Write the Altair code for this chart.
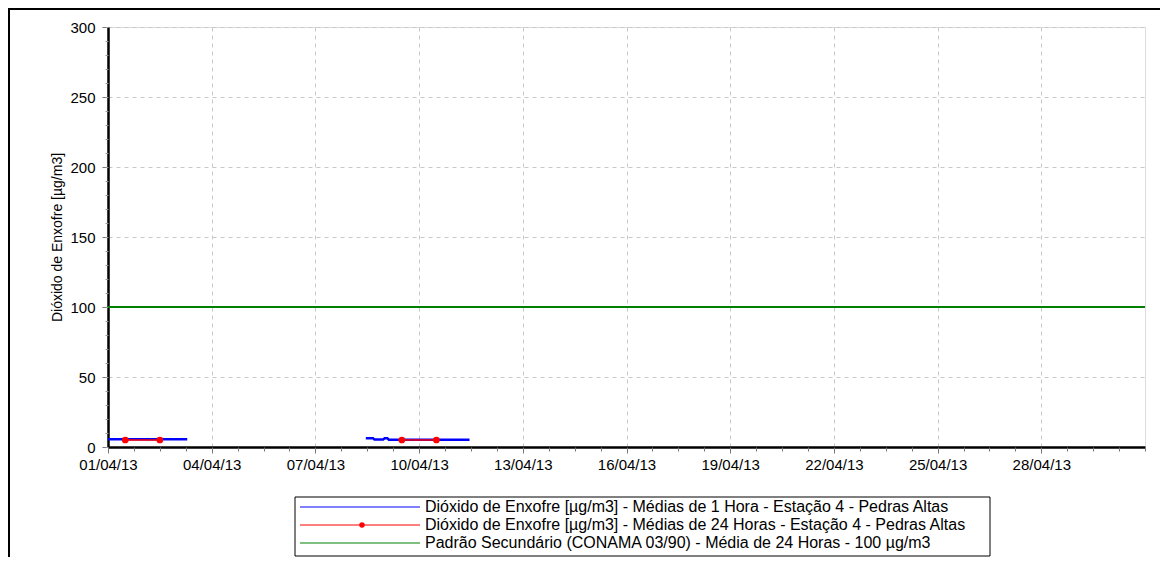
import altair as alt
import pandas as pd

# ---- data ----
S1 = "Dióxido de Enxofre [µg/m3] - Médias de 1 Hora - Estação 4 - Pedras Altas"
S24 = "Dióxido de Enxofre [µg/m3] - Médias de 24 Horas - Estação 4 - Pedras Altas"
SP = "Padrão Secundário (CONAMA 03/90) - Média de 24 Horas - 100 µg/m3"
series = [S1, S24, SP]
series_colors = ["#0000ff", "#ff0000", "#008000"]

h1_time = ["2013-04-01T00:00", "2013-04-01T12:00", "2013-04-02T00:00", "2013-04-02T12:00",
           "2013-04-03T00:00", "2013-04-03T07:00",
           "2013-04-08T11:00", "2013-04-08T16:00", "2013-04-08T17:00", "2013-04-08T23:00",
           "2013-04-09T00:00", "2013-04-09T02:00", "2013-04-09T03:00", "2013-04-09T12:00",
           "2013-04-10T00:00", "2013-04-10T12:00", "2013-04-11T00:00", "2013-04-11T11:00"]
h1_value = [5.5, 5.5, 5.5, 5.5, 5.5, 5.5,
            6.3, 6.3, 5.3, 5.3, 6.2, 6.2, 5.2, 5.2, 5.2, 5.2, 5.2, 5.2]
h1_seg = ["a"] * 6 + ["b"] * 12

h24_time = ["2013-04-01T12:00", "2013-04-02T12:00", "2013-04-09T12:00", "2013-04-10T12:00"]
h24_value = [5.0, 5.0, 5.0, 5.0]
h24_seg = ["a", "a", "b", "b"]

std_time = ["2013-04-01T00:00", "2013-05-01T00:00"]
std_value = [100, 100]

y_ticks = [0, 50, 100, 150, 200, 250, 300]
y_minor = [v for v in range(0, 301, 10)]
x_tick_days = [1, 4, 7, 10, 13, 16, 19, 22, 25, 28]

df1 = pd.DataFrame({"t": h1_time, "v": h1_value, "seg": h1_seg, "s": S1})
df24 = pd.DataFrame({"t": h24_time, "v": h24_value, "seg": h24_seg, "s": S24})
dfs = pd.DataFrame({"t": std_time, "v": std_value, "seg": "c", "s": SP})
leg_df = pd.DataFrame({"s": series, "row": [0, 1, 2], "dot": [False, True, False]})

FONT = "Liberation Sans"
x_domain = [alt.DateTime(year=2013, month=4, date=1), alt.DateTime(year=2013, month=5, date=1)]
x_scale = alt.Scale(domain=x_domain, nice=False)
y_scale = alt.Scale(domain=[0, 300], nice=False)
color_scale = alt.Scale(domain=series, range=series_colors)

# minor x ticks every 18 hours
x_minor = []
for k in range(41):
    hours = k * 18
    x_minor.append(alt.DateTime(year=2013, month=4, date=1 + hours // 24, hours=hours % 24))

x_major = alt.X(
    "t:T", scale=x_scale, title=None,
    axis=alt.Axis(
        orient="bottom",
        values=[alt.DateTime(year=2013, month=4, date=d) for d in x_tick_days],
        format="%d/%m/%y", labelFont=FONT, labelFontSize=15, labelColor="#000",
        labelPadding=4, tickSize=6, tickColor="#777", domainColor="#000",
        domainWidth=2.5, grid=True, gridDash=[4, 4], gridColor="#c8c8c8",
        labelFlush=False, labelOverlap=False,
    ),
)
y_major = alt.Y(
    "v:Q", scale=y_scale, title="Dióxido de Enxofre [µg/m3]",
    axis=alt.Axis(
        orient="left",
        values=y_ticks, labelFont=FONT, labelFontSize=15, labelColor="#000",
        labelPadding=7, tickSize=6, tickColor="#777", domainColor="#000",
        domainWidth=2.5, grid=True, gridDash=[4, 4], gridColor="#c8c8c8",
        titleFont=FONT, titleFontSize=14, titleFontWeight="normal", titleColor="#000",
        titlePadding=5,
    ),
)
x_plain = alt.X("t:T", scale=x_scale, axis=None)
y_plain = alt.Y("v:Q", scale=y_scale, axis=None)

std = alt.Chart(dfs).mark_line(strokeWidth=2).encode(
    x=x_major, y=y_major,
    color=alt.Color("s:N", scale=color_scale, legend=None),
    detail="seg:N",
)
line1 = alt.Chart(df1).mark_line(strokeWidth=2.5).encode(
    x=x_plain, y=y_plain,
    color=alt.Color("s:N", scale=color_scale, legend=None),
    detail="seg:N",
)
line24 = alt.Chart(df24).mark_line(strokeWidth=1.5).encode(
    x=x_plain, y=y_plain,
    color=alt.Color("s:N", scale=color_scale, legend=None),
    detail="seg:N",
)
pts24 = alt.Chart(df24).mark_circle(size=45, opacity=1, color="#ff0000").encode(
    x=x_plain, y=y_plain,
)
minor = alt.Chart(dfs).mark_point(opacity=0).encode(
    x=alt.X("t:T", scale=x_scale, title=None,
            axis=alt.Axis(orient="bottom", values=x_minor, labels=False, grid=False,
                          domain=False, tickSize=4, tickColor="#777", title=None)),
    y=alt.Y("v:Q", scale=y_scale, title=None,
            axis=alt.Axis(orient="left", values=y_minor, labels=False, grid=False,
                          domain=False, tickSize=3, tickColor="#999", title=None)),
)

plot = alt.layer(std, line1, line24, pts24, minor).resolve_axis(x="independent", y="independent")

# ---- legend box (drawn below the plot) ----
leg_y = alt.Y("row:Q", scale=alt.Scale(domain=[0, 2], range=[480, 516]), axis=None)
leg_box = alt.Chart(leg_df.head(1)).mark_rect(fill="white", stroke="#000", strokeWidth=1).encode(
    x=alt.value(187), x2=alt.value(882), y=alt.value(470), y2=alt.value(529),
)
leg_lines = alt.Chart(leg_df).mark_rule().encode(
    x=alt.value(192), x2=alt.value(312), y=leg_y,
    color=alt.Color("s:N", scale=color_scale, legend=None),
    strokeWidth=alt.StrokeWidth("row:O", scale=alt.Scale(domain=[0, 1, 2], range=[1, 1, 2]), legend=None),
)
leg_dots = alt.Chart(leg_df).transform_filter("datum.dot").mark_circle(size=30, opacity=1, color="#ff0000").encode(
    x=alt.value(254), y=leg_y,
)
leg_text = alt.Chart(leg_df).mark_text(align="left", baseline="middle", font=FONT, fontSize=16, color="#000").encode(
    x=alt.value(317), y=leg_y, text="s:N",
)
frame_v = alt.Chart(leg_df.head(1)).mark_rule(color="#000", strokeWidth=2).encode(
    x=alt.value(-99), y=alt.value(-19), y2=alt.value(560),
)
frame_h = alt.Chart(leg_df.head(1)).mark_rule(color="#000", strokeWidth=2).encode(
    x=alt.value(-100), x2=alt.value(1060), y=alt.value(-18),
)
legend_layer = alt.layer(leg_box, leg_lines, leg_dots, leg_text, frame_v, frame_h)

chart = alt.layer(plot, legend_layer).resolve_scale(y="independent").properties(
    width=1037, height=420,
    padding={"left": 100, "top": 19, "right": 15, "bottom": 110},
    autosize=alt.AutoSizeParams(type="none"),
).configure_view(stroke="#555", strokeWidth=1.5).configure(background="white")

chart.save("out.html", embed_options={"renderer": "svg", "actions": False})
